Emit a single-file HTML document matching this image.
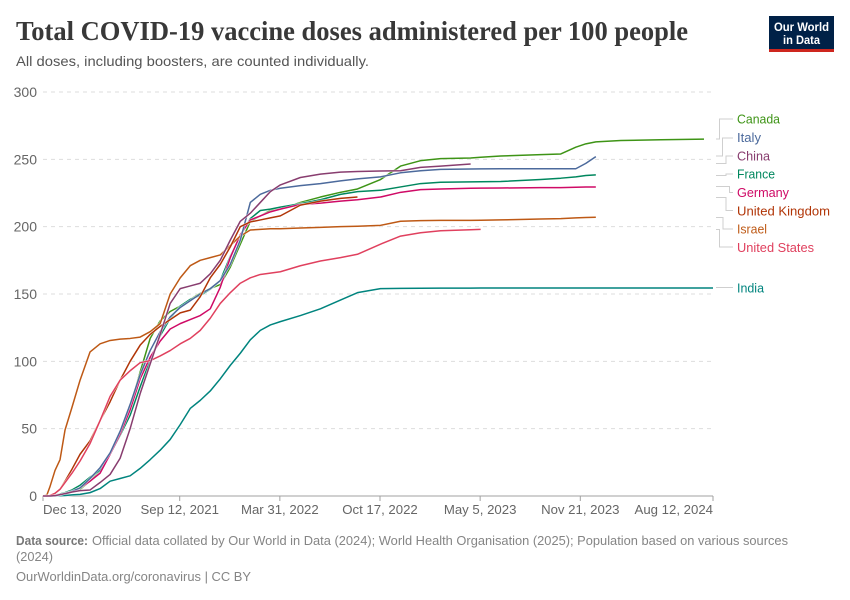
<!DOCTYPE html>
<html lang="en">
<head>
<meta charset="utf-8">
<title>Total COVID-19 vaccine doses administered per 100 people</title>
<style>
html,body{margin:0;padding:0;background:#fff;}
svg{display:block;font-family:"Liberation Sans",sans-serif;}
</style>
</head>
<body>
<svg id="chart" xmlns="http://www.w3.org/2000/svg" width="850" height="600" viewBox="0 0 850 600">
  <rect x="0" y="0" width="850" height="600" fill="#fff"/>
  <text x="16" y="40" font-family="'Liberation Serif',serif" font-weight="bold" font-size="27" fill="#383838" textLength="672" lengthAdjust="spacingAndGlyphs">Total COVID-19 vaccine doses administered per 100 people</text>
  <text x="16" y="66" font-size="14" fill="#555" textLength="353" lengthAdjust="spacingAndGlyphs">All doses, including boosters, are counted individually.</text>

  <g>
    <rect x="769" y="16" width="65" height="33" fill="#002147"/>
    <rect x="769" y="49" width="65" height="3" fill="#ce261e"/>
    <text x="801.5" y="31" text-anchor="middle" font-size="11.5" font-weight="bold" fill="#fff" textLength="55" lengthAdjust="spacingAndGlyphs">Our World</text>
    <text x="801.5" y="44" text-anchor="middle" font-size="11.5" font-weight="bold" fill="#fff" textLength="37" lengthAdjust="spacingAndGlyphs">in Data</text>
  </g>

  <g id="grid"></g>
  <g id="yaxis"></g>
  <g id="xaxis"></g>
  <g id="lines"></g>

  <g fill="none" stroke="#cfcfcf" stroke-width="1">
    <path d="M716 139H719.5V119H733"/>
    <path d="M716 156H722.5V138H733"/>
    <path d="M716 163.5H726V156H733"/>
    <path d="M716 175.5H726V174H733"/>
    <path d="M716 186.5H729.5V192.5H733"/>
    <path d="M716 197.5H726V210.5H733"/>
    <path d="M716 217.5H723V229H733"/>
    <path d="M716 229.5H719.5V247H733"/>
    <path d="M716 287.5H733"/>
  </g>
  <g font-size="13">
    <text x="737" y="123.5" fill="#3e9416" textLength="43" lengthAdjust="spacingAndGlyphs">Canada</text>
    <text x="737" y="142" fill="#4c6a9c" textLength="24" lengthAdjust="spacingAndGlyphs">Italy</text>
    <text x="737" y="160.5" fill="#883d6f" textLength="33" lengthAdjust="spacingAndGlyphs">China</text>
    <text x="737" y="178.5" fill="#00875e" textLength="38" lengthAdjust="spacingAndGlyphs">France</text>
    <text x="737" y="197" fill="#cf0a66" textLength="52" lengthAdjust="spacingAndGlyphs">Germany</text>
    <text x="737" y="215.5" fill="#b13507" textLength="93" lengthAdjust="spacingAndGlyphs">United Kingdom</text>
    <text x="737" y="233.5" fill="#be5915" textLength="30" lengthAdjust="spacingAndGlyphs">Israel</text>
    <text x="737" y="252" fill="#e0405e" textLength="77" lengthAdjust="spacingAndGlyphs">United States</text>
    <text x="737" y="292.5" fill="#00847e" textLength="27" lengthAdjust="spacingAndGlyphs">India</text>
  </g>

  <g font-size="13" fill="#858585">
    <text x="16" y="545" font-weight="bold" fill="#777" textLength="72" lengthAdjust="spacingAndGlyphs">Data source:</text>
    <text x="92" y="545" textLength="696" lengthAdjust="spacingAndGlyphs">Official data collated by Our World in Data (2024); World Health Organisation (2025); Population based on various sources</text>
    <text x="16" y="561" textLength="37" lengthAdjust="spacingAndGlyphs">(2024)</text>
    <text x="16" y="581" textLength="235" lengthAdjust="spacingAndGlyphs">OurWorldinData.org/coronavirus | CC BY</text>
  </g>
</svg>
<script>
// Days since Dec 13, 2020 at which each series is sampled
const days = [0,8,14,24,34,44,58,74,94,114,134,154,174,194,214,234,254,274,294,314,334,354,374,394,414,434,454,474,514,554,594,628,674,714,754,794,854,874,914,994,1034,1064,1084,1104,1154,1234,1320,1338];

// Doses per 100 people (a series ends where its array ends)
const canadaValues = [0,0,0,0.3,1,2,3,5,11,19,31,46,66,92,117,130,137,141,146,150.5,154,157,170,187,204,208,212,213,218,222,225.5,228,235,245,249,250.5,251,251.5,252.5,253.5,254,259,261.5,263,264,264.5,265];
const chinaValues = [0,0,0,0.3,1,1.8,3,4,4.5,10,16,28,50,76,98,120,143,154,156,158,165,175,190,204,210,218,226,231,236.5,239,240.5,241,241.3,241.5,244,245,246.5];
const franceValues = [0,0,0,0.5,1.5,2.5,4.5,8,14,19,31,45,60,81,101,119,132,141,146,149,153.5,160,178,193,206,212,213,214.5,217,220,224,226,227,229.5,232,233,233.3,233.4,233.5,235,236,237,238,238.5];
const germanyValues = [0,0,0,0.3,0.8,1.5,3,6,11,17,31,46,64,87,103,115,124,128,131,134,139,155,177,194,205,208,211,213,216.5,217.5,219,220,222,225.5,227.5,228,228.5,228.6,228.7,229,229,229.3,229.5,229.5];
const indiaValues = [0,0,0,0,0.2,0.4,0.8,1.2,2.5,5.5,11,13,15,20.5,27,34,42,53,65,71,78,87,97,106,116,123,127,129.5,134,139,145.5,151,154,154.2,154.3,154.4,154.4,154.5,154.5,154.5,154.5,154.5,154.5,154.5,154.5,154.5,154.5,154.5];
const israelValues = [0,1,7,19,27,49,66,86,107,113,115.5,116.5,117,118,122,128,150,162,171,175,177,179,186,193,197.5,198,198.5,198.5,199,199.5,200,200.3,201,204,204.5,204.7,204.7,204.8,205,205.7,206,206.5,206.8,207];
const italyValues = [0,0,0,0.3,0.8,2,3.5,6,13,21,32,48,68,90,108,122,133,140,145,150,154,160,172,190,218,224,227,228.5,230.5,232,234,235.5,237,240,241.5,242.5,242.8,242.9,243,243,243,243,247,252];
const ukValues = [0,0,0.5,2,5,11,20,31,41,56,70,86,100,112,120,126,131,136,138,148,162,172,185,200,203.5,205,206.5,208,216,219,221,222];
const usValues = [0,0,0.3,2,5,10,17,26,39,56,74,86,93,99,100.5,104,108,113,117,123,132,143,151,158,162,164.5,165.5,166.5,171,174.5,177,179.5,187,193,195.5,197,197.7,198];

// Axis ticks
const yTicks = [0,50,100,150,200,250,300];
const xTickDays = [0,273,473,673,873,1073,1338];
const xTickLabels = ["Dec 13, 2020","Sep 12, 2021","Mar 31, 2022","Oct 17, 2022","May 5, 2023","Nov 21, 2023","Aug 12, 2024"];

const NS = "http://www.w3.org/2000/svg";
const plotLeft = 43, plotRight = 713, plotBottom = 496, plotTop = 92;
const maxDay = 1338, maxValue = 300;

function xScale(day) { return plotLeft + (day / maxDay) * (plotRight - plotLeft); }
function yScale(value) { return plotBottom - (value / maxValue) * (plotBottom - plotTop); }

function make(tag, attrs, parent) {
  const el = document.createElementNS(NS, tag);
  Object.keys(attrs).forEach(function (k) { el.setAttribute(k, attrs[k]); });
  parent.appendChild(el);
  return el;
}

const gridGroup = document.getElementById("grid");
const yGroup = document.getElementById("yaxis");
const xGroup = document.getElementById("xaxis");
const linesGroup = document.getElementById("lines");

yTicks.forEach(function (tick) {
  if (tick > 0) {
    const line = make("line", {x1: plotLeft, x2: plotRight, y1: yScale(tick), y2: yScale(tick), stroke: "#dddddd", "stroke-width": 1, "stroke-dasharray": "4,4"}, gridGroup);
    
    
  }
  const label = make("text", {x: 37, y: yScale(tick) + 5, "text-anchor": "end", "font-size": 14, fill: "#666"}, yGroup);
  
  
  label.textContent = String(tick);
});

const axisLine = make("line", {x1: plotLeft, x2: plotRight, y1: plotBottom, y2: plotBottom, stroke: "#a1a1a1", "stroke-width": 1}, xGroup);



xTickDays.forEach(function (day, i) {
  const x = xScale(day);
  const tick = make("line", {x1: x, x2: x, y1: plotBottom, y2: plotBottom + 5, stroke: "#a1a1a1", "stroke-width": 1}, xGroup);
  
  
  const anchor = i === 0 ? "start" : (i === xTickDays.length - 1 ? "end" : "middle");
  const label = make("text", {x: x, y: 514, "text-anchor": anchor, "font-size": 13.2, fill: "#666"}, xGroup);
  
  
  label.textContent = xTickLabels[i];
});

const seriesList = [
  {name: "line-canada", values: canadaValues, color: "#3e9416"},
  {name: "line-france", values: franceValues, color: "#00875e"},
  {name: "line-germany", values: germanyValues, color: "#cf0a66"},
  {name: "line-india", values: indiaValues, color: "#00847e"},
  {name: "line-israel", values: israelValues, color: "#be5915"},
  {name: "line-italy", values: italyValues, color: "#4c6a9c"},
  {name: "line-united-kingdom", values: ukValues, color: "#b13507"},
  {name: "line-united-states", values: usValues, color: "#e0405e"},
  {name: "line-china", values: chinaValues, color: "#883d6f"}
];

seriesList.forEach(function (s) {
  const points = s.values.map(function (v, i) {
    return xScale(days[i]).toFixed(2) + "," + yScale(v).toFixed(2);
  }).join(" ");
  const halo = make("polyline", {points: points, fill: "none", stroke: "#fff", "stroke-width": 2.5, "stroke-linejoin": "round", opacity: 0.7}, linesGroup);
  
  
  const line = make("polyline", {points: points, fill: "none", stroke: s.color, "stroke-width": 1.5, "stroke-linejoin": "round"}, linesGroup);
  
  
});
</script>
</body>
</html>
